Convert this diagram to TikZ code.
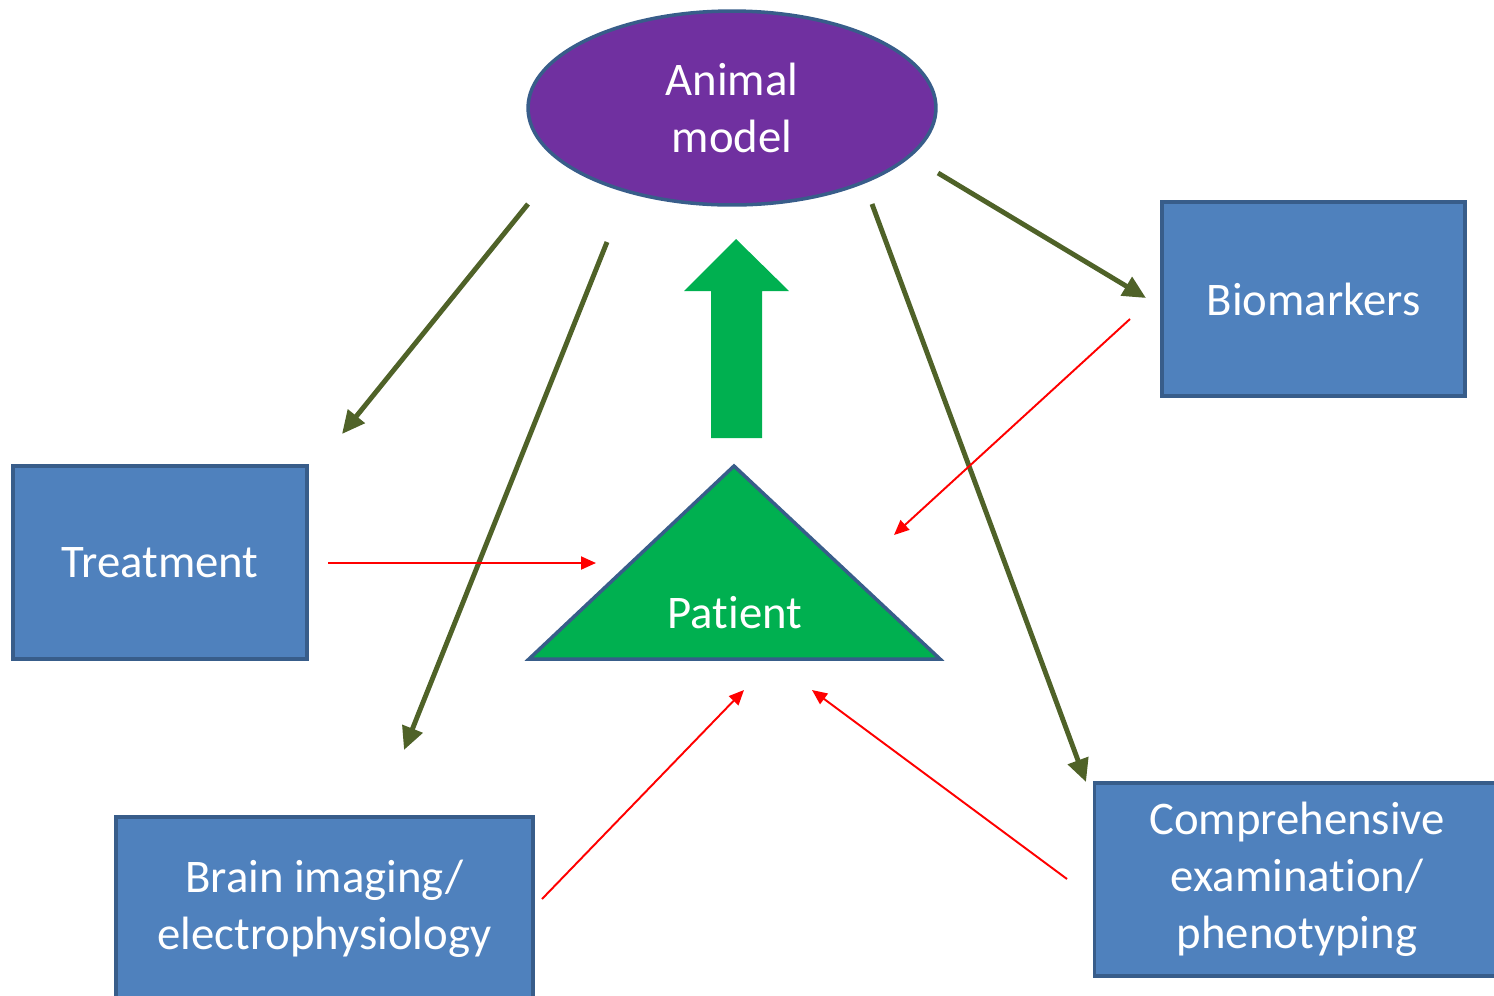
\documentclass[tikz,border=0pt]{standalone}
\usepackage{fontspec}
\setmainfont{Carlito}[Ligatures=NoCommon]
\usetikzlibrary{shapes.geometric,arrows.meta}
\definecolor{boxblue}{HTML}{4F81BD}
\definecolor{boxedge}{HTML}{385D8A}
\definecolor{purp}{HTML}{7030A0}
\definecolor{grn}{HTML}{00B050}
\definecolor{olive}{HTML}{4F6228}
\tikzset{
  bluebox/.style={draw=boxedge, fill=boxblue, line width=2pt, text=white, align=center, inner sep=0pt,
    font=\fontsize{26.6}{32.5}\selectfont},
  olivearrow/.style={draw=olive, line width=2.8pt, -{Triangle[length=0.46cm,width=0.42cm]}},
  redarrow/.style={draw=red, line width=1.1pt, -{Triangle[length=0.3cm,width=0.26cm]}},
  lbl/.style={text=white, align=center, font=\fontsize{26.6}{32.5}\selectfont}
}
\begin{document}
\begin{tikzpicture}[x=0.02cm,y=-0.02cm]
\useasboundingbox (0,0) rectangle (1494,995);
% ellipse
\node[ellipse, draw=boxedge, fill=purp, line width=2pt, inner sep=0pt,
  minimum width=8.16cm, minimum height=3.88cm, lbl] (animal) at (732,108) {Animal\\model};
% boxes
\node[bluebox, minimum width=6.06cm, minimum height=3.88cm] (bio) at (1313.5,299) {Biomarkers};
\node[bluebox, minimum width=5.88cm, minimum height=3.86cm] (treat) at (160,562.5) {Treatment};
\node[bluebox, minimum width=8.34cm, minimum height=3.66cm] (brain) at (324.5,908.5) {Brain imaging/\\electrophysiology};
\node[bluebox, minimum width=8.1cm, minimum height=3.86cm] (comp) at (1297,879.5) {Comprehensive\\examination/\\phenotyping};
% triangle
\draw[draw=boxedge, fill=grn, line width=2pt, line join=miter] (734,466) -- (940,659) -- (529,659) -- cycle;
\node[lbl] (patient) at (735,613) {Patient};
% green block arrow
\fill[grn] (736,239) -- (789,291) -- (762,291) -- (762,438) -- (711,438) -- (711,291) -- (684,291) -- cycle;
% coordinates
\coordinate (o1s) at (528,204); \coordinate (o1e) at (342,434);
\coordinate (o2s) at (607,242); \coordinate (o2e) at (404,750);
\coordinate (o3s) at (938,173); \coordinate (o3e) at (1146,298);
\coordinate (o4s) at (872,204); \coordinate (o4e) at (1086,782);
\coordinate (r1s) at (328,563); \coordinate (r1e) at (596,563);
\coordinate (r2s) at (1130,319); \coordinate (r2e) at (894,535);
\coordinate (r3s) at (542,899); \coordinate (r3e) at (744,690);
\coordinate (r4s) at (1067,879); \coordinate (r4e) at (812,690);
\draw[olivearrow] (o1s) -- (o1e);
\draw[olivearrow] (o2s) -- (o2e);
\draw[olivearrow] (o3s) -- (o3e);
\draw[olivearrow] (o4s) -- (o4e);
\draw[redarrow] (r1s) -- (r1e);
\draw[redarrow] (r2s) -- (r2e);
\draw[redarrow] (r3s) -- (r3e);
\draw[redarrow] (r4s) -- (r4e);
\end{tikzpicture}
\end{document}
